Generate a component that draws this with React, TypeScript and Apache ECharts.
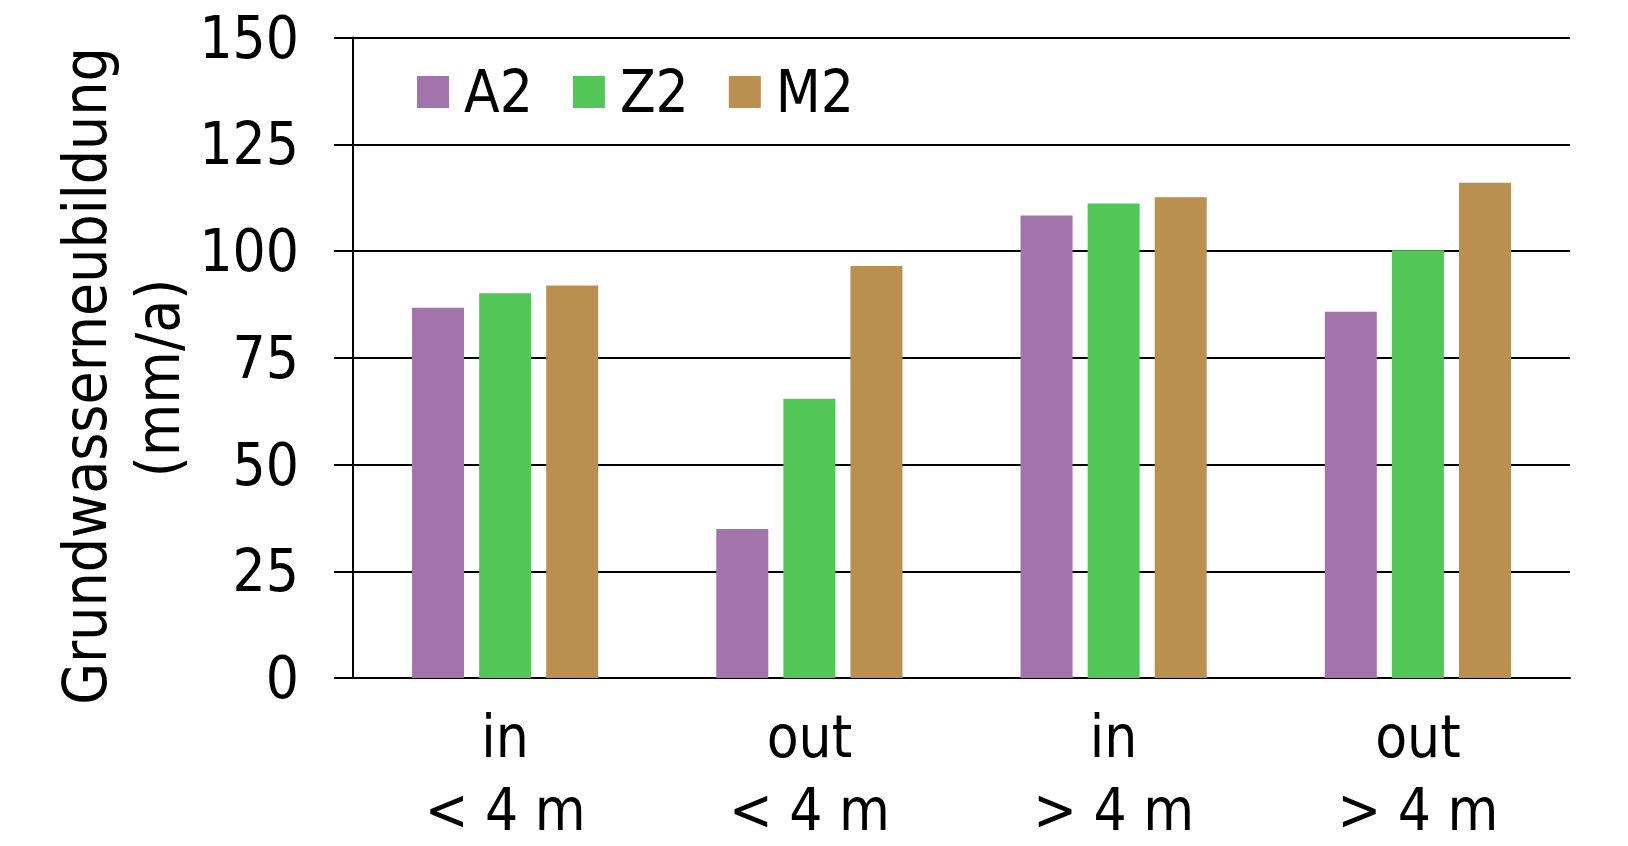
import React, { useEffect, useRef } from "react";
import * as echarts from "echarts";

const categories = ["in\n< 4 m", "out\n< 4 m", "in\n> 4 m", "out\n> 4 m"];
const seriesNames = ["A2", "Z2", "M2"];
const valuesA2 = [86.7, 34.9, 108.3, 85.8];
const valuesZ2 = [90.1, 65.4, 111.1, 100.2];
const valuesM2 = [91.9, 96.5, 112.6, 116.0];
const yMin = 0;
const yMax = 150;
const yInterval = 25;
const axisNameLines = ["Grundwasserneubildung", "(mm/a)"];

const colors = ["#A374AB", "#52C657", "#BB8F4D"];
const FONT = '"DejaVu Sans Condensed", "DejaVu Sans", sans-serif';

export default function App() {
  const ref = useRef<HTMLDivElement>(null);
  useEffect(() => {
    if (!ref.current) return;
    const chart = echarts.init(ref.current, null, { renderer: "svg" });
    const seriesData = [valuesA2, valuesZ2, valuesM2];
    chart.setOption({
      animation: false,
      backgroundColor: "#ffffff",
      grid: { left: 353, right: 58, top: 37.5, bottom: 166 },
      legend: {
        left: 412,
        top: 58,
        itemWidth: 32,
        itemHeight: 32,
        itemGap: 40,
        icon: "rect",
        data: seriesNames,
        textStyle: {
          fontFamily: FONT,
          fontSize: 58,
          color: "#000",
          lineHeight: 32,
          padding: [0, 0, 0, 10],
        },
      },
      xAxis: {
        type: "category",
        data: categories,
        axisLine: { show: true, lineStyle: { color: "#000", width: 2 } },
        axisTick: { show: false },
        axisLabel: {
          margin: 22,
          fontFamily: FONT,
          fontSize: 58,
          lineHeight: 73,
          color: "#000",
          interval: 0,
        },
      },
      yAxis: {
        type: "value",
        min: yMin,
        max: yMax,
        interval: yInterval,
        axisLine: { show: true, lineStyle: { color: "#000", width: 2 } },
        axisTick: { show: true, length: 19, lineStyle: { color: "#000", width: 2 } },
        splitLine: { show: true, lineStyle: { color: "#000", width: 2 } },
        axisLabel: {
          margin: 54,
          fontFamily: FONT,
          fontSize: 58,
          color: "#000",
        },
      },
      graphic: [
        {
          type: "text",
          x: 85,
          y: 376,
          rotation: Math.PI / 2,
          style: {
            text: axisNameLines[0],
            fontFamily: FONT,
            fontSize: 60,
            fill: "#000",
            align: "center",
            verticalAlign: "middle",
          },
        },
        {
          type: "text",
          x: 158,
          y: 378,
          rotation: Math.PI / 2,
          style: {
            text: axisNameLines[1],
            fontFamily: FONT,
            fontSize: 60,
            fill: "#000",
            align: "center",
            verticalAlign: "middle",
          },
        },
      ],
      series: seriesNames.map((name, i) => ({
        name,
        type: "bar",
        data: seriesData[i],
        barWidth: 52,
        barGap: "29%",
        itemStyle: { color: colors[i] },
      })),
    });
    return () => chart.dispose();
  }, []);
  return (
    <div
      ref={ref}
      style={{ position: "fixed", left: 0, top: 0, width: 1628, height: 846 }}
    />
  );
}
